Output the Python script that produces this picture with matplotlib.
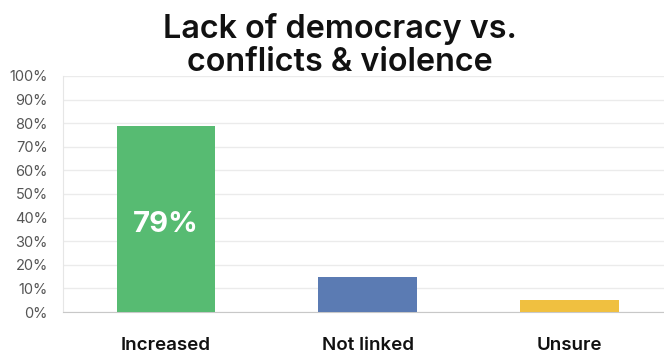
import matplotlib
matplotlib.use("Agg")
import matplotlib.pyplot as plt
from matplotlib.ticker import FuncFormatter

categories = ["Increased", "Not linked", "Unsure"]
values = [79, 15, 5]
colors = ["#57bb72", "#5b7bb3", "#f0c040"]
yticks = list(range(0, 101, 10))

plt.rcParams['font.family'] = ['Inter', 'DejaVu Sans']

fig = plt.figure(figsize=(6.64, 3.53), dpi=100)
ax = fig.add_axes([63/664, 1 - 312/353, 1 - 63/664, (312 - 76)/353])

x = list(range(len(categories)))
bars = ax.bar(x, values, width=0.49, color=colors, zorder=3)
ax.annotate(f"{values[0]}%", xy=(x[0], values[0] / 2), xytext=(0, -4),
            textcoords='offset points', ha='center', va='center',
            color='white', fontsize=21, fontweight='bold', zorder=4)

ax.set_ylim(0, 100)
ax.set_xlim(-0.511, 2.47)
ax.set_yticks(yticks)
ax.yaxis.set_major_formatter(FuncFormatter(lambda v, p: f"{int(v)}%"))
ax.set_xticks(x)
ax.set_xticklabels(categories, fontsize=13.5, fontweight='semibold', color='#111111')
ax.tick_params(axis='x', length=0, pad=18)
ax.tick_params(axis='y', length=0, pad=11, labelsize=10.5, labelcolor='#555555')
ax.grid(axis='y', color='#ebebeb', linewidth=1, zorder=0)
for s in ['top', 'right']:
    ax.spines[s].set_visible(False)
ax.spines['left'].set_color('#e6e6e6')
ax.spines['bottom'].set_color('#c8c8c8')

fig.suptitle("Lack of democracy vs.\nconflicts & violence", x=0.512, y=0.962,
             fontsize=23.3, fontweight='semibold', color='#111111', linespacing=1.05)

fig.savefig("out.png", dpi=100)
